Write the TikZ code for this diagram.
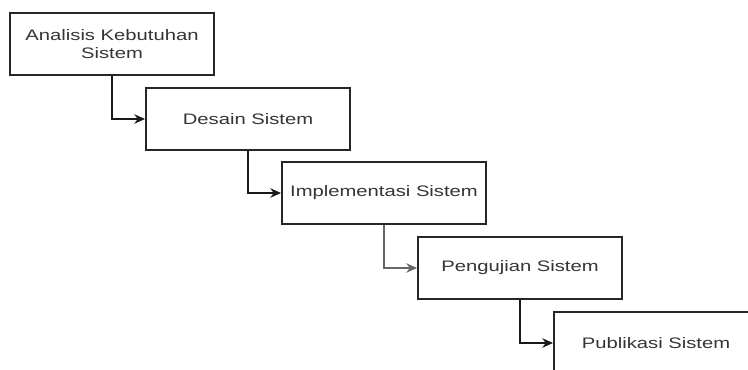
\documentclass[tikz,border=0pt]{standalone}
\usepackage{fontspec}
\setmainfont{Liberation Sans}
\usetikzlibrary{arrows.meta}
\definecolor{txt}{HTML}{353535}
\tikzset{
  stage/.style={draw=black!85, line width=1.5pt, fill=white, minimum width=204*0.75pt, minimum height=62*0.75pt, inner sep=0pt, align=center, text=txt, font=\fontsize{11.4pt}{13.7pt}\selectfont},
  flow/.style={line width=1.5pt, draw=black!90, -{Stealth[length=8pt,width=7pt]}},
}
\newcommand{\widetxt}[1]{\scalebox{1.33}[1]{#1}}
\begin{document}
\begin{tikzpicture}[x=0.75pt,y=-0.75pt]
\useasboundingbox (0,0) rectangle (748,370);
\clip (0,0) rectangle (748,370);
\fill[white] (0,0) rectangle (748,370);
\node[stage] (a) at (112,44) {\widetxt{Analisis Kebutuhan}\\\widetxt{Sistem}};
\node[stage] (b) at (248,119) {\widetxt{Desain Sistem}};
\node[stage] (c) at (384,193) {\widetxt{Implementasi Sistem}};
\node[stage] (d) at (520,268) {\widetxt{Pengujian Sistem}};
\node[stage] (e) at (656,343) {\widetxt{Publikasi Sistem}};
\draw[flow] (a.south) |- (b.west);
\draw[flow] (b.south) |- (c.west);
\draw[flow, draw=black!60] (c.south) |- (d.west);
\draw[flow] (d.south) |- (e.west);
\end{tikzpicture}
\end{document}
